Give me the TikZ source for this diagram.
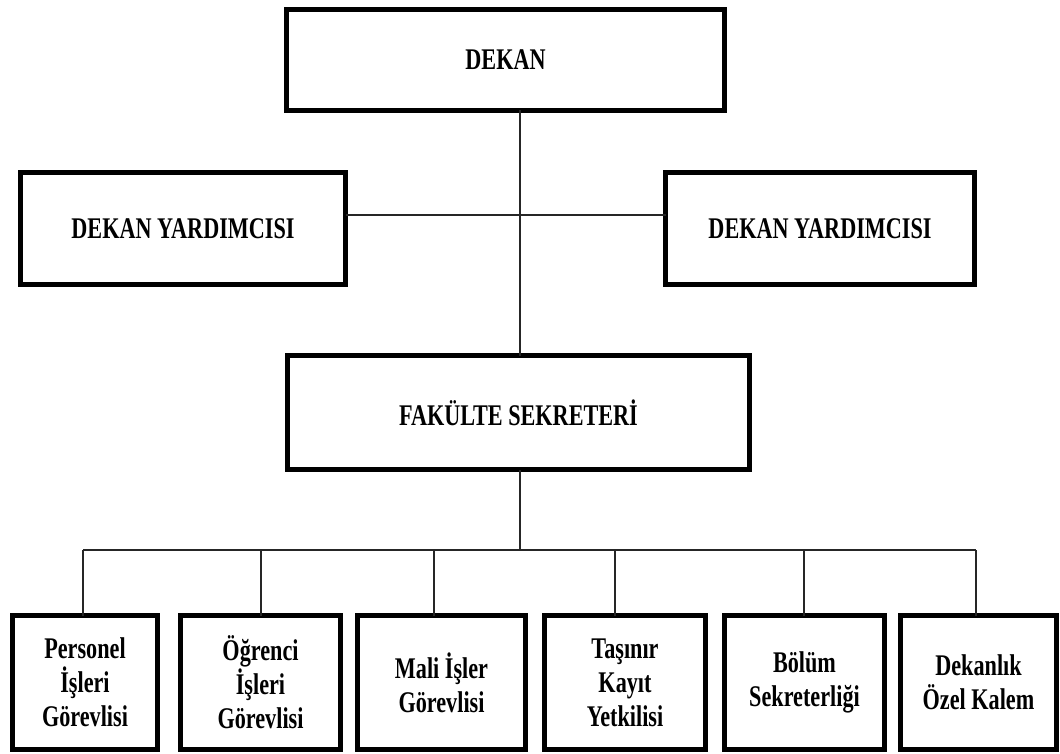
\documentclass[tikz,border=0pt]{standalone}
\usepackage{fontspec}
\setmainfont{Liberation Serif}
\newfontfamily\tnr[FakeStretch=0.74]{Liberation Serif}
\begin{document}
\begin{tikzpicture}[x=1pt,y=-1pt,
  box/.style={draw=black, line width=5pt, fill=white, outer sep=0pt, inner sep=0pt,
    align=center, font=\tnr\bfseries\fontsize{30}{34}\selectfont},
  link/.style={draw=black!85, line width=1.4pt}]
\useasboundingbox[fill=white] (0,0) rectangle (1060,754);

\node[box, minimum width=438pt, minimum height=101pt] (dekan) at (505.5,60) {DEKAN};
\node[box, minimum width=325pt, minimum height=112pt] (ly) at (183,228.5) {DEKAN YARDIMCISI};
\node[box, minimum width=309pt, minimum height=112pt] (ry) at (820,228.5) {DEKAN YARDIMCISI};
\node[box, minimum width=462pt, minimum height=114pt] (fak) at (518.5,412.5) {FAKÜLTE SEKRETERİ};

\node[box, minimum width=145pt, minimum height=134pt] (b1) at (85,682.5) {Personel\\İşleri\\Görevlisi};
\node[box, minimum width=160pt, minimum height=134pt] (b2) at (260.5,682.5) {Öğrenci\\İşleri\\Görevlisi};
\node[box, minimum width=168pt, minimum height=134pt] (b3) at (441.5,682.5) {Mali İşler\\Görevlisi};
\node[box, minimum width=161pt, minimum height=134pt] (b4) at (625,682.5) {Taşınır\\Kayıt\\Yetkilisi};
\node[box, minimum width=160pt, minimum height=134pt] (b5) at (804.5,682.5) {Bölüm\\Sekreterliği};
\node[box, minimum width=156pt, minimum height=134pt] (b6) at (978.5,682.5) {Dekanlık\\Özel Kalem};

\coordinate (t) at (520,215);
\coordinate (j1) at (83,550);
\coordinate (j2) at (261,550);
\coordinate (j3) at (434,550);
\coordinate (j4) at (615,550);
\coordinate (j5) at (804,550);
\coordinate (j6) at (976,550);

\begin{scope}[on background layer/.try]
\end{scope}
\draw[link] (dekan.south -| t) -- (fak.north -| t);
\draw[link] (ly.east |- t) -- (ry.west |- t);
\draw[link] (fak.south -| t) -- (t |- j1);
\draw[link] (j1) -- (j6);
\draw[link] (j1) -- (b1.north -| j1);
\draw[link] (j2) -- (b2.north -| j2);
\draw[link] (j3) -- (b3.north -| j3);
\draw[link] (j4) -- (b4.north -| j4);
\draw[link] (j5) -- (b5.north -| j5);
\draw[link] (j6) -- (b6.north -| j6);
\end{tikzpicture}
\end{document}
